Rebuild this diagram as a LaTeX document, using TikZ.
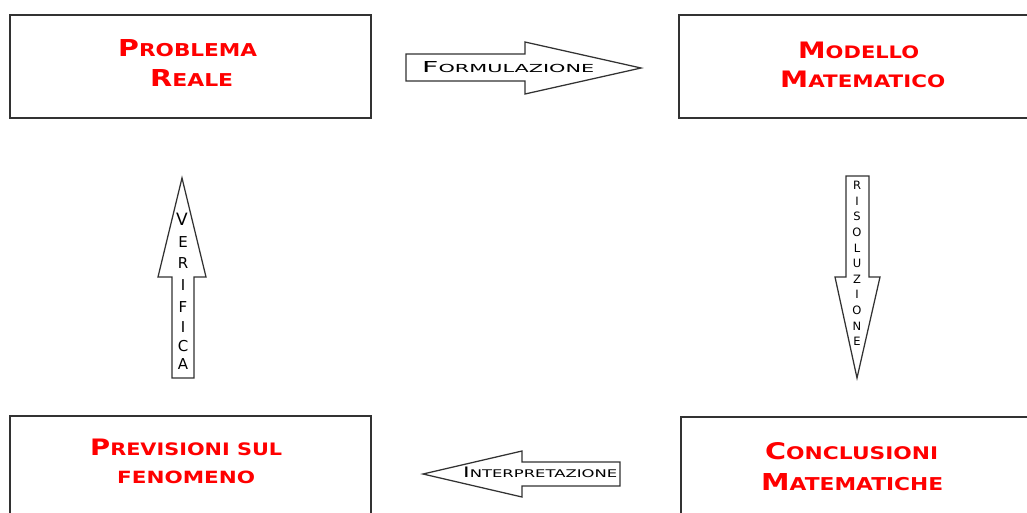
\documentclass[tikz,border=0pt]{standalone}
\usepackage{fontspec}
\usepackage{graphicx}
\setmainfont{DejaVu Sans}
\definecolor{ttlred}{RGB}{255,0,0}
\definecolor{edgegray}{RGB}{50,50,50}
\newcommand\ttlsc[2]{{\fontsize{22}{22}\selectfont #1}{\fontsize{16.7}{17}\selectfont #2}}
\newcommand\lblsc[2]{{\fontsize{15}{15}\selectfont #1}{\fontsize{11}{11}\selectfont #2}}
\newcommand\fitw[3]{\resizebox{#1pt}{#2pt}{#3}}
\begin{document}
\begin{tikzpicture}[x=1pt,y=-1pt,
  box/.style={draw=edgegray,line width=1.6pt,inner sep=0pt,anchor=north west},
  ttl/.style={text=ttlred,font=\bfseries,inner sep=0pt,anchor=base west},
  blockarrow/.style={draw=edgegray,fill=white,line width=1.25pt,line join=miter},
  lbl/.style={text=black,inner sep=0pt,anchor=base west},
  vlet/.style={text=black,inner sep=0pt,anchor=center}]
\useasboundingbox (0,0) rectangle (1027,512);
\clip (0,0) rectangle (1027,512);
\fill[white] (0,0) rectangle (1027,512);

% boxes
\node[box,minimum width=361pt,minimum height=103pt] (pr) at (9,14) {};
\node[box,minimum width=360pt,minimum height=103pt] (mm) at (678,14) {};
\node[box,minimum width=361pt,minimum height=110pt] (pf) at (9,415) {};
\node[box,minimum width=360pt,minimum height=110pt] (cm) at (680,416) {};

% titles
\node[ttl] (pr1) at (118,56) {\fitw{139}{17}{\ttlsc{P}{ROBLEMA}}};
\node[ttl] (pr2) at (150,86) {\fitw{83}{17}{\ttlsc{R}{EALE}}};
\node[ttl] (mm1) at (798,58) {\fitw{121}{16.5}{\ttlsc{M}{ODELLO}}};
\node[ttl] (mm2) at (780,87) {\fitw{165}{16.5}{\ttlsc{M}{ATEMATICO}}};
\node[ttl] (pf1) at (90,455) {\fitw{192}{16.5}{\ttlsc{P}{REVISIONI SUL}}};
\node[ttl] (pf2) at (117,483) {\fitw{138}{12.5}{{\fontsize{16.7}{17}\selectfont FENOMENO}}};
\node[ttl] (cm1) at (765,459) {\fitw{173}{17}{\ttlsc{C}{ONCLUSIONI}}};
\node[ttl] (cm2) at (761,490) {\fitw{182}{17}{\ttlsc{M}{ATEMATICHE}}};

% block arrows
\draw[blockarrow] (406,54) -- (525,54) -- (525,42) -- (641,68) -- (525,94) -- (525,81) -- (406,81) -- cycle;
\draw[blockarrow] (620,462) -- (522,462) -- (522,451) -- (423,474) -- (522,497) -- (522,486) -- (620,486) -- cycle;
\draw[blockarrow] (172,378) -- (172,277) -- (158,277) -- (182,178) -- (206,277) -- (194,277) -- (194,378) -- cycle;
\draw[blockarrow] (846,176) -- (869,176) -- (869,277) -- (880,277) -- (857,378) -- (835,277) -- (846,277) -- cycle;

% arrow labels
\node[lbl] (fo) at (422,72) {\fitw{172}{11}{\lblsc{F}{ORMULAZIONE}}};
\node[lbl] (in) at (463,477) {\fitw{154}{10.5}{\lblsc{I}{NTERPRETAZIONE}}};

% VERIFICA (vertical)
\node[vlet,font=\fontsize{17}{17}\selectfont] (v1) at (182,219) {V};
\foreach \l/\yy [count=\i from 2] in {E/242.5,R/263.5,I/285,F/307,I/327.5,C/346,A/364}
  \node[vlet,font=\fontsize{15}{15}\selectfont] (v\i) at (183,\yy) {\l};

% RISOLUZIONE (vertical)
\foreach \l [count=\i from 0] in {R,I,S,O,L,U,Z,I,O,N,E}
  \node[vlet,font=\fontsize{11.5}{11.5}\selectfont] (r\i) at (857,{185.5+15.6*\i}) {\l};
\end{tikzpicture}
\end{document}
